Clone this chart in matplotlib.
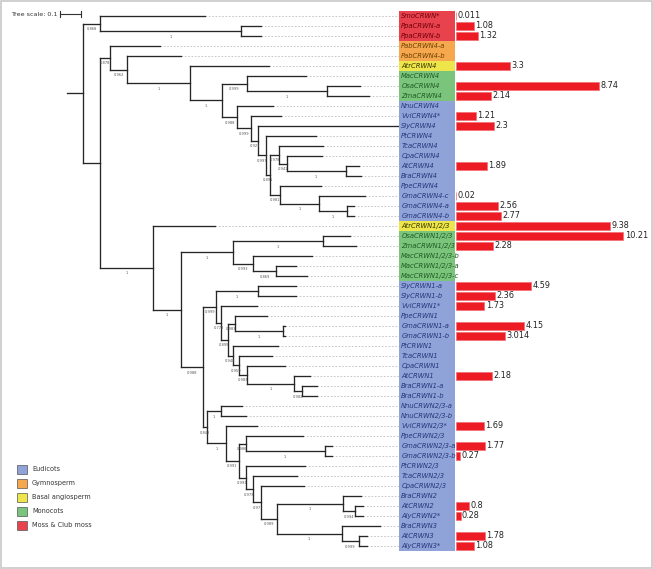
import matplotlib
matplotlib.use('Agg')
import matplotlib.pyplot as plt
from matplotlib.patches import Rectangle

# phylogeny (newick, branch lengths + bootstrap support), split by clade
moss_clade = "(SmoCRWN*:0.500,(PpaCRWN-a:0.095,PpaCRWN-b:0.095)1:0.671)0.868:0.081"
crwn4_clade = (
    "(PabCRWN4-a:0.238,(PabCRWN4-b:0.257,(AtrCRWN4:0.376,("
    "(MacCRWN4:0.281,(OsaCRWN4:0.157,ZmaCRWN4:0.200)1:0.381)0.999:0.119,"
    "(NnuCRWN4:0.171,(VviCRWN4*:0.143,(SlyCRWN4:0.671,(PtCRWN4:0.238,("
    "(TcaCRWN4:0.210,(CpaCRWN4:0.167,(AtCRWN4:0.062,BraCRWN4:0.071)1:0.281)0.941:0.038)0.978:0.040,"
    "(PpeCRWN4:0.195,(GmaCRWN4-c:0.219,(GmaCRWN4-a:0.033,GmaCRWN4-b:0.033)1:0.133)1:0.186)0.981:0.045"
    ")0.891:0.021)0.997:0.038)0.921:0.033)0.999:0.067)0.988:0.071"
    ")1:0.152)1:0.300)0.962:0.081)0.878:0.048"
)
crwn123_clade = (
    "(AtrCRWN1/2/3:0.295,("
    "((OsaCRWN1/2/3:0.129,ZmaCRWN1/2/3:0.157)1:0.429,"
    "(MacCRWN1/2/3-b:0.281,(MacCRWN1/2/3-a:0.095,MacCRWN1/2/3-c:0.148)0.869:0.110)0.993:0.095)1:0.248,"
    "(((SlyCRWN1-a:0.181,SlyCRWN1-b:0.181)1:0.200,"
    "(VviCRWN1*:0.171,("
    "(PpeCRWN1:0.152,(GmaCRWN1-a:0.010,GmaCRWN1-b:0.010)1:0.229)0.983:0.033,"
    "(PtCRWN1:0.214,(TcaCRWN1:0.157,(CpaCRWN1:0.181,"
    "(AtCRWN1:0.076,(BraCRWN1-a:0.071,BraCRWN1-b:0.071)0.982:0.038)1:0.224"
    ")0.983:0.038)0.959:0.029)0.948:0.024"
    ")0.895:0.033)0.778:0.024)0.999:0.060,"
    "((NnuCRWN2/3-a:0.100,NnuCRWN2/3-b:0.119)1:0.067,"
    "(VviCRWN2/3*:0.148,("
    "(PpeCRWN2/3:0.271,(GmaCRWN2/3-a:0.033,GmaCRWN2/3-b:0.033)1:0.376)0.986:0.033,"
    "(PtCRWN2/3:0.281,(TcaCRWN2/3:0.210,(CpaCRWN2/3:0.205,("
    "(BraCRWN2:0.090,(AtCRWN2:0.038,AlyCRWN2*:0.038)0.994:0.057)1:0.314,"
    "(BraCRWN3:0.181,(AtCRWN3:0.038,AlyCRWN3*:0.038)0.999:0.081)1:0.310"
    ")0.989:0.076)0.97:0.038)0.979:0.033)0.991:0.033"
    ")0.991:0.062)1:0.090)0.848:0.017"
    ")0.988:0.107)1:0.133)1:0.252"
)
tree_newick = "(" + moss_clade + ",(" + crwn4_clade + "," + crwn123_clade + "):0.081):0.076;"

# leaf groups, top to bottom
groups = (["Moss & Club moss"] * 3 + ["Gymnosperm"] * 2 + ["Basal angiosperm"]
          + ["Monocots"] * 3 + ["Eudicots"] * 12 + ["Basal angiosperm"]
          + ["Monocots"] * 5 + ["Eudicots"] * 27)

# expression values (None = no bar)
expression = [0.011, 1.08, 1.32, None, None, 3.3, None, 8.74, 2.14,
              None, 1.21, 2.3, None, None, None, 1.89, None, None, 0.02, 2.56, 2.77,
              9.38, 10.21, 2.28, None, None, None,
              4.59, 2.36, 1.73, None, 4.15, 3.014, None, None, None, 2.18, None, None,
              None, None, 1.69, None, 1.77, 0.27, None, None, None,
              None, 0.8, 0.28, None, 1.78, 1.08]

legend_order = ["Eudicots", "Gymnosperm", "Basal angiosperm", "Monocots", "Moss & Club moss"]
box_colors = {"Eudicots": "#8FA3D8", "Gymnosperm": "#F6A84E", "Basal angiosperm": "#EEE54A",
              "Monocots": "#7BC47C", "Moss & Club moss": "#E8424E"}
text_colors = {"Eudicots": "#24357A", "Gymnosperm": "#6B3F00", "Basal angiosperm": "#333300",
               "Monocots": "#1F5A22", "Moss & Club moss": "#6E0008"}
tree_scale = 0.1


def parse_newick(s):
    pos = 0

    def node():
        nonlocal pos
        children = []
        if s[pos] == '(':
            pos += 1
            children.append(node())
            while s[pos] == ',':
                pos += 1
                children.append(node())
            pos += 1
        start = pos
        while s[pos] not in ':,);':
            pos += 1
        label = s[start:pos]
        length = 0.0
        if s[pos] == ':':
            pos += 1
            start = pos
            while s[pos] not in ',);':
                pos += 1
            length = float(s[start:pos])
        return {'label': label, 'length': length, 'children': children}

    return node()


root = parse_newick(tree_newick)
leaves = []


def layout(n, x0):
    n['x'] = x0 + n['length']
    if not n['children']:
        n['y'] = len(leaves)
        leaves.append(n)
    else:
        for c in n['children']:
            layout(c, n['x'])
        n['y'] = (n['children'][0]['y'] + n['children'][-1]['y']) / 2


layout(root, -root['length'])

W, H = 653, 569
fig = plt.figure(figsize=(W / 100, H / 100), dpi=100)
fig.patch.set_facecolor('white')

px_per_unit = 210.0   # 0.1 subst/site = 21 px
root_px, box_px, bar_px = 83, 399, 456
ylim = (55.3, -1.6)

ax = fig.add_axes([0, 0, box_px / W, 1])
ax.set_xlim(-root_px / px_per_unit, (box_px - root_px) / px_per_unit)
ax.set_ylim(*ylim)
ax.axis('off')

line_kw = dict(color='#262626', lw=0.95, solid_capstyle='projecting', zorder=3)


def draw(n, parent_x):
    ax.plot([parent_x, n['x']], [n['y'], n['y']], **line_kw)
    if n['children']:
        ys = [c['y'] for c in n['children']]
        ax.plot([n['x'], n['x']], [min(ys), max(ys)], **line_kw)
        if n['label'] and parent_x < n['x'] and n is not root:
            ax.text((parent_x + n['x']) / 2, n['y'] + 0.55, n['label'], fontsize=2.6,
                    color='#555555', ha='center', va='center', zorder=4)
        for c in n['children']:
            draw(c, n['x'])
    else:
        ax.plot([n['x'], ax.get_xlim()[1]], [n['y'], n['y']], color='#BDBDBD',
                lw=0.6, dashes=(2, 2), zorder=1)


draw(root, root['x'] - root['length'])

# tree scale bar
sx0 = -0.1095
ax.plot([sx0, sx0 + tree_scale], [-0.2, -0.2], color='#333333', lw=0.8)
for xx in (sx0, sx0 + tree_scale):
    ax.plot([xx, xx], [-0.5, 0.1], color='#333333', lw=0.8)

# label column
axl = fig.add_axes([box_px / W, 0, (bar_px - 1 - box_px) / W, 1])
axl.set_xlim(0, 1)
axl.set_ylim(*ylim)
axl.axis('off')
for i, (leaf, g) in enumerate(zip(leaves, groups)):
    axl.add_patch(Rectangle((0, i - 0.5), 1, 1, facecolor=box_colors[g], edgecolor='none'))
    axl.text(0.04, i, leaf['label'], fontsize=4.9, style='italic', color=text_colors[g],
             ha='left', va='center')

# expression bars
axb = fig.add_axes([bar_px / W, 0, (W - bar_px) / W, 1])
axb.set_xlim(0, (W - bar_px) / 16.4)
axb.set_ylim(*ylim)
axb.axis('off')
idx = [i for i, v in enumerate(expression) if v is not None]
vals = [expression[i] for i in idx]
axb.barh(idx, vals, height=0.82, color='#ED1C24', edgecolor='#F26D73', linewidth=0.5)
for i, v in zip(idx, vals):
    axb.text(v + 0.08, i, repr(v), fontsize=5.9, ha='left', va='center', color='#222222')

# legend, scale text and frame in pixel space
axo = fig.add_axes([0, 0, 1, 1], zorder=-1)
axo.set_xlim(0, W)
axo.set_ylim(H, 0)
axo.axis('off')
axo.add_patch(Rectangle((1, 1), W - 2.5, H - 2.5, fill=False, edgecolor='#C8C8C8', lw=1.2))
axo.text(11, 14, "Tree scale: %g" % tree_scale, fontsize=4.6, ha='left', va='center',
         color='#333333')
for k, g in enumerate(legend_order):
    yc = 469 + 14 * k
    axo.add_patch(Rectangle((17, yc - 4.5), 10, 9, facecolor=box_colors[g],
                            edgecolor='#555555', lw=0.5))
    axo.text(32, yc, g, fontsize=4.7, va='center', ha='left', color='#333333')

fig.savefig('out.png', dpi=100, facecolor='white')
